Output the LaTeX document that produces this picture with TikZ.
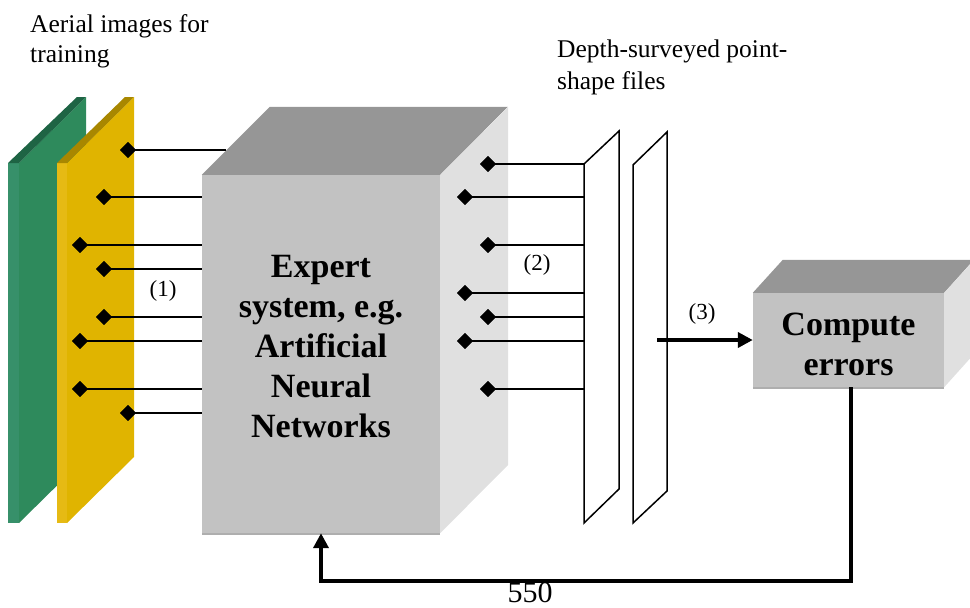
\documentclass[tikz,border=0pt]{standalone}
\usepackage{fontspec}
\setmainfont{Liberation Serif}
\usetikzlibrary{shapes.geometric,arrows.meta}
\definecolor{gside}{HTML}{2E8A5C}
\definecolor{gfront}{HTML}{37906A}
\definecolor{gtop}{HTML}{1E6444}
\definecolor{yside}{HTML}{E0B400}
\definecolor{yfront}{HTML}{E6BA14}
\definecolor{ytop}{HTML}{A88700}
\definecolor{bfront}{HTML}{C2C2C2}
\definecolor{btop}{HTML}{969696}
\definecolor{bside}{HTML}{E0E0E0}
\definecolor{bedge}{HTML}{AEAEAE}
\tikzset{
  dia/.style={diamond,fill=black,draw=none,inner sep=0pt,minimum width=16pt,minimum height=16pt},
  wire/.style={draw=black,line width=1.6pt},
  panel/.style={draw=black,fill=white,line width=1.5pt,line join=miter},
  fb/.style={draw=black,line width=4pt,-{Triangle[length=15pt,width=15pt]}},
  boxface/.style={draw=none},
  bigtxt/.style={font=\bfseries\fontsize{34}{40}\selectfont,align=center,inner sep=0pt},
  lbl/.style={font=\fontsize{23}{26}\selectfont,inner sep=0pt},
  captxt/.style={font=\fontsize{25.5}{30}\selectfont,align=left,inner sep=0pt,anchor=north west}
}
\begin{document}
\begin{tikzpicture}[x=1pt,y=-1pt]
\useasboundingbox (0,0) rectangle (970,608);
% slabs: aerial images
\fill[gside] (19,163) -- (86,97) -- (86,457) -- (19,523) -- cycle;
\fill[gfront] (8,163) -- (19,163) -- (19,523) -- (8,523) -- cycle;
\fill[gtop] (8,163) -- (77,97) -- (86,97) -- (19,163) -- cycle;
\fill[yside] (67,163) -- (134,97) -- (134,457) -- (67,523) -- cycle;
\fill[yfront] (57,163) -- (67,163) -- (67,523) -- (57,523) -- cycle;
\fill[ytop] (57,163) -- (125,97) -- (134,97) -- (67,163) -- cycle;
% main box
\node[boxface,fill=bfront,minimum width=238pt,minimum height=358pt,inner sep=0pt] (es) at (321,354) {};
\fill[btop] (es.north west) -- ++(68,-68) -- ++(238,0) -- (es.north east) -- cycle;
\fill[bside] (es.north east) -- ++(68,-68) -- ++(0,358) -- (es.south east) -- cycle;
\draw[bedge,line width=1.5pt] ([yshift=-0.75pt]es.south west) -- ([yshift=-0.75pt]es.south east);
\node[bigtxt] (est) at (321,347) {Expert\\system, e.g.\\Artificial\\Neural\\Networks};
% compute errors box
\node[boxface,fill=bfront,minimum width=191pt,minimum height=94pt,inner sep=0pt] (ce) at (848.5,340) {};
\fill[btop] (ce.north west) -- ++(30,-33) -- ++(191,0) -- (ce.north east) -- cycle;
\fill[bside] (ce.north east) -- ++(30,-33) -- ++(0,94) -- (ce.south east) -- cycle;
\draw[bedge,line width=1.5pt] ([yshift=-0.75pt]ce.south west) -- ([yshift=-0.75pt]ce.south east);
\node[bigtxt] (cet) at (848.5,344) {Compute\\errors};
% point-shape file panels
\draw[panel] (584,164) -- (619,131) -- (619,489) -- (584,523) -- cycle;
\draw[panel] (633,165) -- (667,132) -- (667,491) -- (633,523) -- cycle;
\coordinate (p1) at (584,300);
\coordinate (tf) at (226,150);
% left diamonds
\node[dia] (l1) at (128,150) {};
\node[dia] (l2) at (104,197) {};
\node[dia] (l3) at (80,245) {};
\node[dia] (l4) at (104,269) {};
\node[dia] (l5) at (104,317) {};
\node[dia] (l6) at (80,341) {};
\node[dia] (l7) at (80,389) {};
\node[dia] (l8) at (128,413) {};
\draw[wire] (l1.center) -- (tf);
\foreach \i in {2,...,8} {\draw[wire] (l\i.center) -- (l\i.center -| es.west);}
% right diamonds
\node[dia] (r1) at (488,164) {};
\node[dia] (r2) at (465,197) {};
\node[dia] (r3) at (488,245) {};
\node[dia] (r4) at (465,293) {};
\node[dia] (r5) at (488,317) {};
\node[dia] (r6) at (465,341) {};
\node[dia] (r7) at (488,389) {};
\foreach \i in {1,...,7} {\draw[wire] (r\i.center) -- (r\i.center -| p1);}
% redraw diamonds on top
\foreach \i in {1,...,8} {\node[dia] at (l\i) {};}
\foreach \i in {1,...,7} {\node[dia] at (r\i) {};}
% arrows
\coordinate (a3) at (657,340);
\draw[fb] (a3) -- (ce.west);
\draw[fb] (851,387) -- (851,581) -| (es.south);
% labels
\node[lbl] (n1) at (163,291) {(1)};
\node[lbl] (n2) at (537,265) {(2)};
\node[lbl] (n3) at (702,314) {(3)};
\node[captxt] (aer) at (30,14.7) {Aerial images for\\training};
\node[captxt,font=\fontsize{25.5}{32}\selectfont] (dep) at (557,39.7) {Depth-surveyed point-\\shape files};
\node[font=\fontsize{30}{34}\selectfont,inner sep=0pt,anchor=base] (num) at (530,602) {550};
\end{tikzpicture}
\end{document}
